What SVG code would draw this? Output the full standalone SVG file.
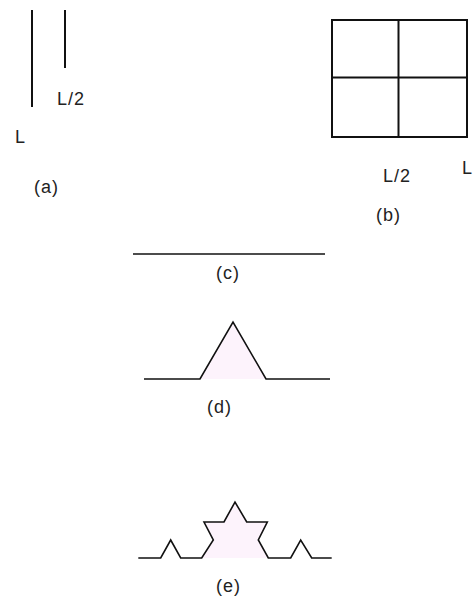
<svg xmlns="http://www.w3.org/2000/svg" width="473" height="601" viewBox="0 0 473 601">
<style>
.ln{stroke:#111;stroke-width:2;fill:none;stroke-linecap:butt}
.cv{stroke:#111;stroke-width:1.6;fill:none;stroke-linejoin:miter}
.tx{font-family:"Liberation Sans",Arial,sans-serif;font-size:18px;fill:#222;letter-spacing:1px}
.pk{fill:#fdf3fc;stroke:none}
</style>
<rect width="473" height="601" fill="#ffffff"/>
<g id="fig-a">
<line class="ln" x1="32" y1="10" x2="32" y2="107"/>
<line class="ln" x1="65" y1="10" x2="65" y2="68"/>
<text class="tx" x="57" y="105">L/2</text>
<text class="tx" x="15" y="143">L</text>
<text class="tx" x="34" y="193">(a)</text>
</g>
<g id="fig-b">
<rect class="ln" x="332" y="20" width="135" height="117"/>
<line class="ln" x1="398.5" y1="20" x2="398.5" y2="137"/>
<line class="ln" x1="332" y1="77.5" x2="467" y2="77.5"/>
<text class="tx" x="383" y="182">L/2</text>
<text class="tx" x="462" y="174" style="letter-spacing:0">L</text>
<text class="tx" x="376" y="221">(b)</text>
</g>
<g id="fig-c">
<line class="cv" x1="133" y1="254" x2="325" y2="254"/>
<text class="tx" x="216" y="279">(c)</text>
</g>
<g id="fig-d">
<polygon class="pk" points="200,379 233,322 266,379"/>
<polyline class="cv" points="144,379 200,379 233,322 266,379 330,379"/>
<text class="tx" x="207" y="413">(d)</text>
</g>
<g id="fig-e">
<polygon class="pk" points="201.7,558 213.3,540 204,522 224,522 235,502 246.7,522 267.3,522 258.3,540 268.3,558"/>
<polyline class="cv" points="138.3,558 160.7,558 170.7,540 180.7,558 201.7,558 213.3,540 204,522 224,522 235,502 246.7,522 267.3,522 258.3,540 268.3,558 290.7,558 300.7,540 311.7,558 331.7,558"/>
<text class="tx" x="216" y="592">(e)</text>
</g>
</svg>
